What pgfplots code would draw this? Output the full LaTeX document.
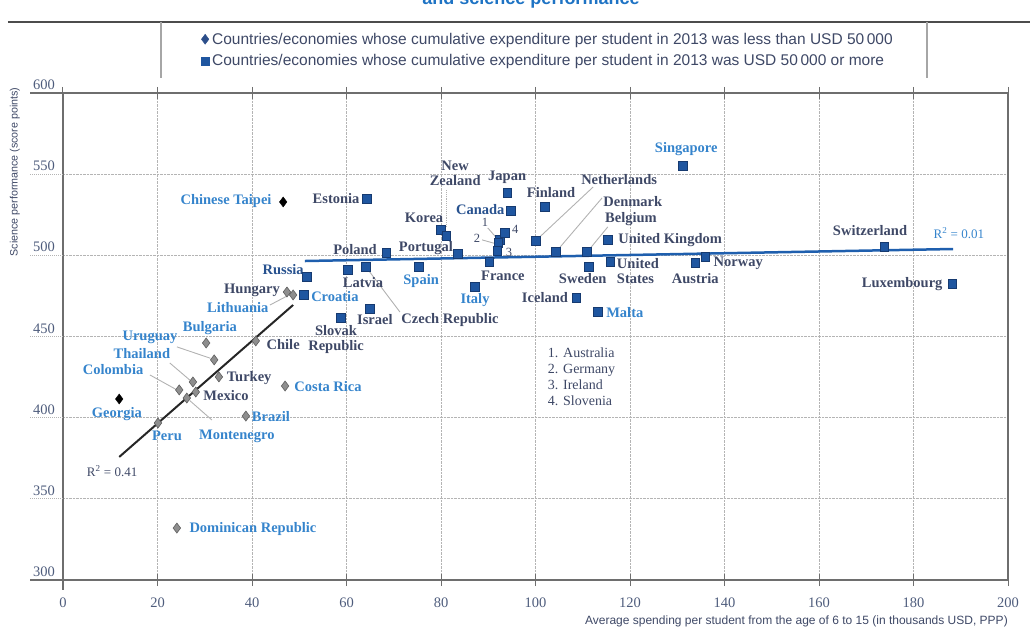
\documentclass[border=0pt]{standalone}
\usepackage{fontspec}
\setmainfont{Liberation Serif}
\setsansfont{Liberation Sans}
\usepackage{pgfplots}
\pgfplotsset{compat=1.18}

\definecolor{sqblue}{HTML}{1F56A0}
\definecolor{sqedge}{HTML}{163A70}
\definecolor{dgray}{HTML}{8E8E8E}
\definecolor{dgedge}{HTML}{5E5E5E}
\definecolor{lbldark}{HTML}{3E4866}
\definecolor{lblblue}{HTML}{3584CC}
\definecolor{regblue}{HTML}{1F5FAE}
\definecolor{ticktxt}{HTML}{4E5C7C}
\definecolor{titleblue}{HTML}{1E73C4}
\definecolor{axgray}{HTML}{6E6E6E}
\definecolor{gridgray}{HTML}{B4B4B4}
\definecolor{legnavy}{HTML}{2C4E8A}

\tikzset{
  lb/.style={font=\bfseries\fontsize{14.5}{15}\selectfont, text=lbldark, inner sep=0pt, align=center},
  lbb/.style={lb, text=lblblue},
  num/.style={lb, font=\fontsize{12.5}{12.5}\selectfont},
  leader/.style={draw=gray!60, line width=0.9pt},
}

\begin{document}
\begin{tikzpicture}[x=1pt,y=1pt]
\begin{axis}[
  name=ax, at={(0,0)}, anchor=south west,
  scale only axis, width=945pt, height=487pt,
  xmin=0, xmax=200, ymin=300, ymax=600,
  clip=false,
  axis line style={draw=axgray, line width=1.2pt},
  xtick={0,20,...,200}, ytick={300,350,...,600},
  grid=major, grid style={densely dotted, line width=1pt, gridgray},
  tick align=center, major tick length=12pt,
  xtick style={draw=axgray, line width=1pt},
  ytick style={draw=none},
  /pgf/number format/assume math mode=true,
  ticklabel style={font=\fontsize{14.5}{14.5}\selectfont, text=ticktxt},
  xticklabel style={yshift=-8pt},
  yticklabel style={anchor=south east, inner sep=1pt, xshift=-1pt, yshift=2pt},
  xlabel={Average spending per student from the age of 6 to 15 (in thousands USD, PPP)},
  xlabel style={at={(axis description cs:1,-0.084)}, anchor=east, inner sep=0pt,
    font=\sffamily\fontsize{12}{12}\selectfont, text=lbldark},
  ylabel={Science performance (score points)},
  ylabel style={at={(axis description cs:-0.051,0.838)}, anchor=center, inner sep=0pt,
    font=\sffamily\fontsize{10.7}{10.7}\selectfont, text=lbldark},
  legend style={at={(0.146,1.128)}, anchor=north west, draw=none, fill=none,
    font=\sffamily\fontsize{15.5}{16}\selectfont, text=lbldark, row sep=5pt,
    cells={anchor=west}, inner sep=0pt,
    nodes={inner xsep=3pt}},
  legend cell align=left,
]
\addlegendimage{only marks, mark=diamond*, mark size=5pt, color=legnavy}
\addlegendentry{Countries/economies whose cumulative expenditure per student in 2013 was less than USD 50\,000}
\addlegendimage{only marks, mark=square*, mark size=4pt, color=sqblue}
\addlegendentry{Countries/economies whose cumulative expenditure per student in 2013 was USD 50\,000 or more}

% regression lines
\addplot[forget plot, black!85, line width=2pt] coordinates {(11.9,375.8) (48.7,469.4)};
\addplot[forget plot, regblue, line width=2.5pt] coordinates {(51.2,496.5) (188.4,503.9)};

% leader lines
\draw[leader] (axis cs:43.8,469.4) -- (axis cs:47.2,474.6);
\draw[leader] (axis cs:24.1,443.6) -- (axis cs:31.2,436.6);
\draw[leader] (axis cs:22.6,433.7) -- (axis cs:26.9,423.0);
\draw[leader] (axis cs:18.4,426.3) -- (axis cs:23.8,417.6);
\draw[leader] (axis cs:31.5,398.6) -- (axis cs:26.8,410.6);
\draw[leader] (axis cs:64.6,491.0) -- (axis cs:71.3,465.1);
\draw[leader] (axis cs:100.6,510.5) -- (axis cs:112.2,542.1);
\draw[leader] (axis cs:104.8,503.7) -- (axis cs:114.1,535.4);
\draw[leader] (axis cs:111.4,503.7) -- (axis cs:115.3,517.5);
\draw[leader, densely dotted] (axis cs:81.1,540.3) -- (axis cs:81.1,516.9);
\draw[leader] (axis cs:89.9,516.9) -- (axis cs:91.9,510.2);
\draw[leader] (axis cs:88.7,509.5) -- (axis cs:91.3,507.4);

% countries below USD 50 000
\addplot[forget plot, only marks, mark=diamond*, mark size=5pt,
  mark options={fill=dgray, draw=dgedge, line width=0.6pt}] coordinates {
  (47.4,477.4) (48.7,475.6) (30.3,446.0) (32.0,435.6) (40.8,447.3)
  (33.0,425.1) (27.5,422.0) (24.6,417.1) (28.1,415.8) (26.2,412.1)
  (47.0,419.5) (38.7,401.0) (20.1,396.7) (24.1,332.0)};
\addplot[forget plot, only marks, mark=diamond*, mark size=5pt,
  mark options={fill=black, draw=black}] coordinates {
  (46.6,532.9) (11.9,411.5)};

% countries at or above USD 50 000
\addplot[forget plot, only marks, mark=square*, mark size=4.3pt,
  mark options={fill=sqblue, draw=sqedge, line width=0.6pt}] coordinates {
  (64.3,534.8) (51.6,486.7) (51.0,475.6) (68.4,501.5) (60.3,491.0)
  (58.8,461.4) (64.9,467.0) (64.1,492.9) (75.3,492.9) (83.6,500.9)
  (80.0,515.6) (81.1,512.0) (94.0,538.4) (94.8,527.4) (102.0,529.8)
  (92.5,509.5) (92.1,507.6) (91.9,502.7) (93.5,513.8) (90.2,495.9)
  (87.2,480.5) (100.1,508.9) (104.3,502.1) (110.9,502.1) (115.3,509.5)
  (115.8,495.9) (111.3,492.9) (108.6,473.8) (113.2,465.1) (131.2,555.1)
  (133.8,495.3) (135.9,499.0) (173.8,505.2) (188.2,482.4)};

% labels
\node[lbb] at (axis cs:34.5,533.5) {Chinese Taipei};
\node[lb] at (axis cs:57.8,534.7) {Estonia};
\node[lb, text=sqblue!70!lbldark] at (axis cs:46.6,491) {Russia};
\node[lb] at (axis cs:40,478.7) {Hungary};
\node[lbb, anchor=west] at (axis cs:52.5,474.4) {Croatia};
\node[lbb] at (axis cs:37,467.6) {Lithuania};
\node[lb] at (axis cs:63.5,483) {Latvia};
\node[lb] at (axis cs:57.8,447.9) {Slovak\\Republic};
\node[lb] at (axis cs:66,460.2) {Israel};
\node[lb] at (axis cs:81.9,460.2) {Czech Republic};
\node[lb] at (axis cs:61.8,503.3) {Poland};
\node[lb] at (axis cs:76.8,504.6) {Portugal};
\node[lbb] at (axis cs:75.8,484.2) {Spain};
\node[lb] at (axis cs:76.4,523) {Korea};
\node[lb] at (axis cs:83,550.8) {New\\Zealand};
\node[lb] at (axis cs:94,547.8) {Japan};
\node[lb, text=sqblue!70!lbldark] at (axis cs:88.3,528) {Canada};
\node[lb] at (axis cs:103.3,538.4) {Finland};
\node[lb] at (axis cs:93.1,487.3) {France};
\node[lbb] at (axis cs:87.2,472.5) {Italy};
\node[lb] at (axis cs:102,473.7) {Iceland};
\node[lb] at (axis cs:117.7,546.5) {Netherlands};
\node[lb] at (axis cs:120.6,532.9) {Denmark};
\node[lb] at (axis cs:120.2,522.4) {Belgium};
\node[lb] at (axis cs:128.5,509.5) {United Kingdom};
\node[lb, anchor=west, align=left] at (axis cs:117.2,490.4) {United\\States};
\node[lb] at (axis cs:110,485.5) {Sweden};
\node[lbb] at (axis cs:118.9,464.5) {Malta};
\node[lbb] at (axis cs:131.9,565.6) {Singapore};
\node[lb] at (axis cs:133.8,485.5) {Austria};
\node[lb] at (axis cs:142.9,495.3) {Norway};
\node[lb] at (axis cs:170.8,515) {Switzerland};
\node[lbb, font=\fontsize{13}{13}\selectfont] at (axis cs:189.6,513.8) {R\textsuperscript{2} = 0.01};
\node[lb] at (axis cs:177.6,482.4) {Luxembourg};
\node[lbb] at (axis cs:31.1,455.3) {Bulgaria};
\node[lbb] at (axis cs:18.4,449.7) {Uruguay};
\node[lbb] at (axis cs:16.7,439.2) {Thailand};
\node[lbb] at (axis cs:10.6,429.4) {Colombia};
\node[lb] at (axis cs:46.6,444.8) {Chile};
\node[lb] at (axis cs:39.4,424.5) {Turkey};
\node[lb] at (axis cs:34.5,413.4) {Mexico};
\node[lbb] at (axis cs:56.1,418.9) {Costa Rica};
\node[lbb] at (axis cs:11.4,402.3) {Georgia};
\node[lbb] at (axis cs:44,400.4) {Brazil};
\node[lbb] at (axis cs:22,388.7) {Peru};
\node[lbb] at (axis cs:36.8,388.7) {Montenegro};
\node[lb, font=\fontsize{13}{13}\selectfont] at (axis cs:10.4,367.2) {R\textsuperscript{2} = 0.41};
\node[lbb] at (axis cs:40.2,331.4) {Dominican Republic};
\node[num] at (axis cs:89.3,520.6) {1};
\node[num] at (axis cs:87.6,510.7) {2};
\node[num] at (axis cs:94.4,502.1) {3};
\node[num] at (axis cs:95.7,515.7) {4};
\node[lb, font=\fontsize{14}{14}\selectfont, anchor=west, align=left] at (axis cs:102.6,425.1)
  {1. Australia\\[2pt]2. Germany\\[2pt]3. Ireland\\[2pt]4. Slovenia};
\end{axis}

% frame extensions and grid extensions to the left
\draw[axgray, line width=1.2pt] (-33,487) -- (0,487);
\draw[axgray, line width=1.2pt] (-33,0) -- (0,0);
\draw[axgray, line width=1.2pt] (0,0) -- (0,-10);
\foreach \v in {81.2,162.3,243.5,324.7,405.8}
  \draw[densely dotted, line width=1pt, gridgray] (-33,\v) -- (0,\v);

% legend frame
\draw[black!70, line width=2pt] (-55,558) -- (967,558);
\draw[gray!70, line width=1.2pt] (98,558) -- (98,502);
\draw[gray!70, line width=1.2pt] (864,558) -- (864,502);

% title, cut off by the page edge as in the source
\node[font=\sffamily\bfseries\fontsize{18}{18}\selectfont, text=titleblue, anchor=base]
  at (468,575) {and science performance};

\pgfresetboundingbox
\path[use as bounding box] (-63,-49) rectangle (972,580);
\end{tikzpicture}
\end{document}
